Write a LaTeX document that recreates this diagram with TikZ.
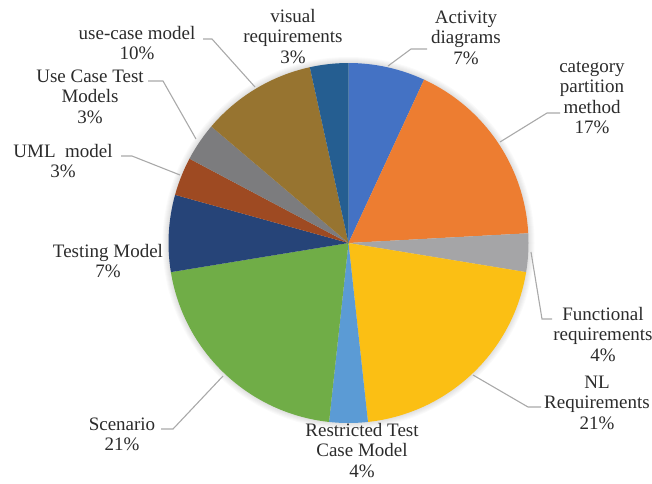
\documentclass[tikz,border=0pt]{standalone}
\usepackage{fontspec}
\setmainfont{Liberation Serif}
\definecolor{cA}{HTML}{4472C4}
\definecolor{cB}{HTML}{ED7D31}
\definecolor{cC}{HTML}{A5A5A7}
\definecolor{cD}{HTML}{FBBF14}
\definecolor{cE}{HTML}{5B9BD5}
\definecolor{cF}{HTML}{70AD47}
\definecolor{cG}{HTML}{264478}
\definecolor{cH}{HTML}{9E4A22}
\definecolor{cI}{HTML}{7C7C7E}
\definecolor{cJ}{HTML}{977430}
\definecolor{cK}{HTML}{255E91}
\definecolor{ldr}{HTML}{A9A9A9}
\definecolor{txt}{HTML}{2B2B2B}
\newcommand\lbl[1]{\begin{tabular}[t]{@{}c@{}}#1\end{tabular}}
\def\slicestep{12.4137931}
\newcommand\slice[3]{\fill[#1] (c) -- ++({90-#2*\slicestep}:180pt) arc[start angle={90-#2*\slicestep}, end angle={90-#3*\slicestep}, radius=180pt] -- cycle;}
\tikzset{
  lab/.style={anchor=base, inner sep=0pt, text=txt, font=\fontsize{19}{20.5}\selectfont},
  leader/.style={draw=ldr, line width=1.1pt}
}
\begin{document}
\begin{tikzpicture}[x=1pt,y=1pt]
\useasboundingbox (0,0) rectangle (652,-483);
\coordinate (c) at (348.5,-243);
% soft shadow
\foreach \k in {1,...,6} {\fill[black,opacity=0.02] (c) circle[radius={180pt+\k pt}];}
% slices, clockwise from top
\slice{cA}{0}{2}
\slice{cB}{2}{7}
\slice{cC}{7}{8}
\slice{cD}{8}{14}
\slice{cE}{14}{15}
\slice{cF}{15}{21}
\slice{cG}{21}{23}
\slice{cH}{23}{24}
\slice{cI}{24}{25}
\slice{cJ}{25}{28}
\slice{cK}{28}{29}
% labels
\node[lab] (act) at (466,-23) {\lbl{Activity\\diagrams\\7\%}};
\node[lab] (cat) at (592,-72) {\lbl{category\\partition\\method\\17\%}};
\node[lab] (fun) at (603,-320) {\lbl{Functional\\requirements\\4\%}};
\node[lab] (nl) at (597,-388) {\lbl{NL\\Requirements\\21\%}};
\node[lab] (rtc) at (362,-436) {\lbl{Restricted Test\\Case Model\\4\%}};
\node[lab] (scn) at (122,-430) {\lbl{Scenario\\21\%}};
\node[lab] (tst) at (108,-257) {\lbl{Testing Model\\7\%}};
\node[lab] (uml) at (63,-157) {\lbl{UML\ \ model\\3\%}};
\node[lab] (uct) at (90,-82) {\lbl{Use Case Test\\Models\\3\%}};
\node[lab] (ucm) at (137,-39) {\lbl{use-case model\\10\%}};
\node[lab] (vis) at (293,-22) {\lbl{visual\\requirements\\3\%}};
% leader lines
\coordinate (ucmA) at (203,-39); \coordinate (ucmB) at (212,-39); \coordinate (ucmC) at (255,-87);
\draw[leader] (ucmA) -- (ucmB) -- (ucmC);
\coordinate (uctA) at (148,-81); \coordinate (uctB) at (163,-81); \coordinate (uctC) at (196,-139);
\draw[leader] (uctA) -- (uctB) -- (uctC);
\coordinate (umlA) at (121,-156); \coordinate (umlB) at (132,-156); \coordinate (umlC) at (180,-175);
\draw[leader] (umlA) -- (umlB) -- (umlC);
\coordinate (actA) at (427,-49); \coordinate (actB) at (411,-49); \coordinate (actC) at (388,-66);
\draw[leader] (actA) -- (actB) -- (actC);
\coordinate (catA) at (560,-113); \coordinate (catB) at (547,-113); \coordinate (catC) at (500,-142);
\draw[leader] (catA) -- (catB) -- (catC);
\coordinate (funA) at (552,-319); \coordinate (funB) at (542,-319); \coordinate (funC) at (531,-252);
\draw[leader] (funA) -- (funB) -- (funC);
\coordinate (nlA) at (541,-407); \coordinate (nlB) at (528,-407); \coordinate (nlC) at (473,-375);
\draw[leader] (nlA) -- (nlB) -- (nlC);
\coordinate (scnA) at (161,-429); \coordinate (scnB) at (173,-429); \coordinate (scnC) at (223,-376);
\draw[leader] (scnA) -- (scnB) -- (scnC);
\end{tikzpicture}
\end{document}
